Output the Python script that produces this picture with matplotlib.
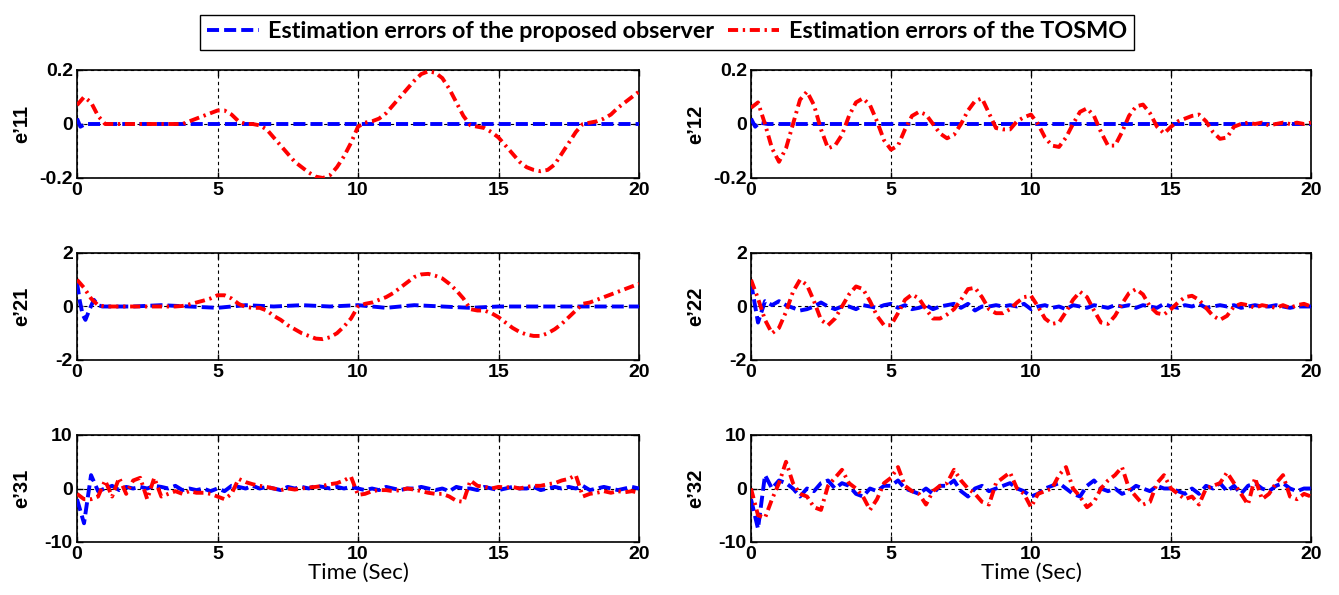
import numpy as np
import matplotlib.pyplot as plt

plt.rcParams['font.family'] = ['Liberation Sans', 'DejaVu Sans']
plt.rcParams['font.weight'] = 'bold'

# time grid (sec) on which the TOSMO curves were read
t_grid = np.arange(0, 20.01, 0.25)

# e'11
e11_tosmo = [0.07, 0.10, 0.08, 0.03,
             0.00, 0.00, 0.00, 0.00,
             0.00, 0.00, 0.00, 0.00,
             0.00, 0.00, 0.00, 0.00,
             0.01, 0.02, 0.03, 0.04,
             0.05, 0.05, 0.035, 0.01,
             0.00, 0.00, -0.005, -0.02,
             -0.05, -0.08, -0.11, -0.14,
             -0.16, -0.18, -0.195, -0.20,
             -0.19, -0.16, -0.12, -0.07,
             -0.01, 0.005, 0.01, 0.02,
             0.04, 0.07, 0.10, 0.13,
             0.16, 0.185, 0.195, 0.19,
             0.17, 0.13, 0.08, 0.03,
             -0.005, -0.01, -0.015, -0.03,
             -0.05, -0.08, -0.11, -0.14,
             -0.16, -0.17, -0.175, -0.17,
             -0.15, -0.11, -0.07, -0.03,
             0.00, 0.005, 0.01, 0.02,
             0.035, 0.06, 0.08, 0.10,
             0.12]
e11_prop_t = [0, 0.12, 0.3, 20]
e11_prop = [0.02, -0.01, 0.0, 0.0]

# e'12
e12_tosmo = [0.06, 0.08, 0.0, -0.09,
             -0.14, -0.09, 0.0, 0.09,
             0.12, 0.07, -0.02, -0.09,
             -0.08, -0.04, 0.03, 0.08,
             0.095, 0.07, 0.01, -0.06,
             -0.095, -0.08, -0.02, 0.03,
             0.045, 0.035, 0.0, -0.035,
             -0.053, -0.04, 0.0, 0.05,
             0.085, 0.095, 0.04, -0.015,
             -0.02, -0.02, 0.01, 0.025,
             0.035, 0.0, -0.05, -0.08,
             -0.085, -0.05, 0.0, 0.045,
             0.058, 0.03, -0.03, -0.08,
             -0.08, -0.03, 0.03, 0.065,
             0.072, 0.04, -0.01, -0.035,
             -0.01, 0.01, 0.02, 0.03,
             0.035, 0.01, -0.03, -0.055,
             -0.05, -0.01, 0.0, 0.005,
             0.0, 0.005, -0.005, 0.0,
             0.005, 0.0, 0.005, 0.0,
             0.005]
e12_prop_t = [0, 0.15, 0.3, 0.6, 20]
e12_prop = [0.02, -0.01, 0.005, 0.0, 0.0]

# e'21
e21_tosmo = [1.0, 0.7, 0.3, 0.05,
             0.0, 0.0, 0.0, 0.0,
             0.0, 0.0, 0.0, 0.0,
             0.0, 0.0, 0.0, 0.02,
             0.08, 0.15, 0.22, 0.3,
             0.42, 0.42, 0.3, 0.1,
             -0.02, -0.05, -0.05, -0.15,
             -0.35, -0.5, -0.7, -0.85,
             -1.0, -1.1, -1.2, -1.22,
             -1.15, -1.0, -0.75, -0.45,
             0.0, 0.1, 0.15, 0.25,
             0.35, 0.5, 0.7, 0.9,
             1.1, 1.2, 1.22, 1.15,
             1.05, 0.85, 0.6, 0.3,
             -0.1, -0.15, -0.15, -0.25,
             -0.4, -0.6, -0.8, -0.95,
             -1.05, -1.1, -1.1, -1.0,
             -0.85, -0.65, -0.4, -0.15,
             0.1, 0.15, 0.25, 0.35,
             0.45, 0.55, 0.65, 0.75,
             0.85]
e21_prop_t = [0, 0.1, 0.2, 0.3, 0.45, 0.6, 0.75, 0.9,
              2, 3, 4, 5, 6, 7, 8, 9, 10, 11, 12, 13, 14, 15, 20]
e21_prop = [0.9, 0.2, -0.3, -0.5, -0.1, 0.25, 0.05, 0.0,
            0.0, 0.05, 0.0, -0.05, 0.05, 0.0, 0.05, 0.0, 0.05, -0.05, 0.05, 0.0, -0.05, 0.0, 0.0]

# e'22
e22_tosmo = [1.0, 0.3, -0.5, -1.0,
             -0.8, -0.2, 0.55, 1.0,
             0.8, 0.2, -0.5, -0.7,
             -0.45, 0.0, 0.45, 0.75,
             0.65, 0.2, -0.35, -0.7,
             -0.7, -0.25, 0.25, 0.45,
             0.3, -0.1, -0.45, -0.45,
             -0.3, -0.1, 0.25, 0.65,
             0.7, 0.35, -0.1, -0.25,
             -0.25, -0.1, 0.15, 0.35,
             0.4, 0.0, -0.45, -0.65,
             -0.6, -0.2, 0.25, 0.55,
             0.35, -0.15, -0.6, -0.65,
             -0.35, 0.1, 0.5, 0.65,
             0.45, 0.0, -0.25, -0.3,
             -0.1, 0.15, 0.35, 0.4,
             0.25, -0.05, -0.35, -0.5,
             -0.35, 0.0, 0.1, 0.05,
             -0.05, 0.05, 0.0, -0.05,
             0.05, -0.05, 0.05, 0.1,
             0.0]
e22_prop = [0.9, -0.6, 0.2, 0.05,
            0.2, 0.05, -0.05, -0.15,
            -0.1, 0.0, 0.15, 0.0,
            -0.1, 0.0, 0.0, -0.1,
            0.05, 0.0, -0.05, 0.05,
            0.1, -0.05, 0.05, -0.1,
            -0.05, 0.05, -0.1, 0.0,
            0.05, 0.1, -0.05, 0.1,
            -0.15, 0.0, 0.0, 0.05,
            0.0, 0.05, 0.0, 0.1,
            -0.1, 0.0, 0.05, -0.05,
            0.0, -0.1, 0.05, 0.0,
            -0.05, 0.05, 0.0, -0.05,
            0.05, 0.0, 0.05, -0.05,
            0.05, 0.0, -0.05, 0.1,
            0.0, -0.05, 0.05, 0.0,
            0.1, -0.05, 0.0, 0.05,
            0.0, 0.05, -0.05, 0.0,
            0.05, 0.0, 0.0, 0.05,
            0.0, -0.05, 0.0, 0.0,
            0.0]

# e'31
e31_tosmo = [-1.0, -2.0, -2.0, -1.5,
             1.5, -1.5, 2.0, -1.0,
             1.5, 2.0, -2.0, 2.0,
             -1.5, -1.0, -0.5, -1.0,
             -0.5, -0.8, -0.8, -1.0,
             -1.5, -2.0, -1.0, 1.8,
             1.2, 0.8, 0.5, 0.3,
             0.0, -0.3, 0.0, -0.2,
             0.0, 0.2, 0.3, 0.5,
             0.8, 1.0, 1.5, 2.2,
             -1.2, -1.0, -0.5, -0.3,
             -0.3, -0.5, -0.3, 0.0,
             -0.2, -0.5, -0.8, -1.0,
             -1.0, -1.5, -2.3, -2.5,
             1.5, 0.5, 0.3, 0.0,
             0.3, 0.2, 0.3, 0.0,
             0.3, 0.5, 0.5, 0.8,
             1.0, 1.5, 1.8, 2.5,
             -1.5, -1.0, -0.8, -0.5,
             -0.8, -0.5, -0.7, -0.5,
             -0.8]
e31_prop = [-2.0, -6.5, 2.5, -0.5,
            0.0, 0.5, -0.3, 0.3,
            0.0, 0.3, 0.0, 0.5,
            0.3, 0.0, 0.5, -0.3,
            0.0, -0.3, 0.0, -0.5,
            0.0, -0.5, 0.5, 0.3,
            0.0, 0.5, 0.0, 0.3,
            0.0, -0.3, 0.3, 0.0,
            0.3, 0.0, 0.5, 0.3,
            0.0, 0.3, 0.0, 0.3,
            0.0, -0.3, 0.0, -0.3,
            0.3, 0.0, -0.3, 0.0,
            0.0, 0.3, 0.0, -0.3,
            0.0, -0.5, 0.3, 0.0,
            0.0, -0.3, 0.3, 0.0,
            -0.3, 0.0, 0.3, 0.0,
            0.0, 0.3, -0.3, 0.0,
            0.3, 0.0, 0.3, 0.0,
            0.5, -0.3, 0.0, 0.3,
            0.0, -0.3, 0.0, 0.3,
            0.0]

# e'32
e32_tosmo = [0.0, -5.0, -5.5, -2.0,
             1.0, 5.0, 1.0, -1.0,
             -1.5, -3.5, -4.0, 0.5,
             2.0, 3.5, 1.0, 0.0,
             -1.5, -4.0, -2.0, 1.0,
             2.0, 4.0, 0.5, -0.5,
             -1.0, -3.0, -0.5, 0.5,
             1.0, 3.5, 1.5, 0.0,
             -1.0, -2.5, -3.0, 1.0,
             2.0, 3.0, 0.0, -1.0,
             -3.5, -1.0, -0.5, 0.0,
             2.5, 4.0, 0.0, -1.5,
             -3.5, -2.5, 0.0, 1.5,
             2.5, 4.0, 0.0, -1.5,
             -3.0, -2.5, 1.0, 2.5,
             0.0, -1.0, -2.0, -1.5,
             -3.0, 0.0, 0.5, 1.0,
             3.0, 1.0, -1.0, -3.0,
             2.0, -2.0, -1.0, 1.0,
             2.5, -1.5, -2.0, -1.0,
             -1.5]
e32_prop = [-2.0, -7.5, 2.5, 0.0,
            1.5, 1.0, 0.0, -1.5,
            0.0, -0.5, 1.0, 1.5,
            0.0, 1.0, 0.5, -1.0,
            -1.5, 0.0, -0.5, 0.5,
            0.5, 1.5, 0.0, -0.5,
            -1.0, 0.0, -1.0, 0.5,
            0.5, 1.5, -0.5, -1.5,
            0.0, 0.5, -0.5, 0.0,
            0.5, 1.0, 0.0, -0.5,
            -1.5, -1.0, 0.0, 0.5,
            1.0, 0.0, -1.0, -1.5,
            0.5, 1.5, 0.0, -0.5,
            0.0, -1.0, -0.5, 0.5,
            0.0, -0.5, 0.5, 0.0,
            0.0, -0.5, -1.0, 0.0,
            -1.0, 0.5, 0.0, 1.0,
            -0.5, 0.5, -1.0, 0.5,
            1.0, 0.0, -0.5, 0.5,
            1.0, 0.0, -0.5, 0.0,
            0.0]

x_ticks = [0, 5, 10, 15, 20]
y_ticks_small = [-0.2, 0, 0.2]
y_ticks_mid = [-2, 0, 2]
y_ticks_big = [-10, 0, 10]
y_tick_small_labels = ['-0.2', '0', '0.2']
y_tick_mid_labels = ['-2', '0', '2']
y_tick_big_labels = ['-10', '0', '10']

panels = [
    ("e\u201911", e11_prop_t, e11_prop, t_grid, e11_tosmo, y_ticks_small, y_tick_small_labels),
    ("e\u201912", e12_prop_t, e12_prop, t_grid, e12_tosmo, y_ticks_small, y_tick_small_labels),
    ("e\u201921", e21_prop_t, e21_prop, t_grid, e21_tosmo, y_ticks_mid, y_tick_mid_labels),
    ("e\u201922", t_grid, e22_prop, t_grid, e22_tosmo, y_ticks_mid, y_tick_mid_labels),
    ("e\u201931", t_grid, e31_prop, t_grid, e31_tosmo, y_ticks_big, y_tick_big_labels),
    ("e\u201932", t_grid, e32_prop, t_grid, e32_tosmo, y_ticks_big, y_tick_big_labels),
]

W, H = 1339, 595
fig = plt.figure(figsize=(W / 100, H / 100), dpi=100)

col_x = [(77, 562), (751, 560)]
row_y = [(70, 178), (253, 360), (435, 542)]

for i, (lab, tp, vp, tt, vt, yt, ytl) in enumerate(panels):
    r, c = divmod(i, 2)
    x0, w = col_x[c]
    top, bot = row_y[r]
    ax = fig.add_axes([x0 / W, 1 - bot / H, w / W, (bot - top) / H])
    lb, = ax.plot(tp, vp, color='blue', linestyle=(0, (3.1, 1.3)), linewidth=2.8, zorder=3)
    lr, = ax.plot(tt, vt, color='red', linestyle=(0, (2.6, 1.2, 0.6, 1.2)), linewidth=2.8, zorder=4)
    ax.set_xlim(0, 20)
    ax.set_ylim(yt[0], yt[-1])
    ax.set_xticks(x_ticks)
    ax.set_xticklabels([str(v) for v in x_ticks])
    ax.set_yticks(yt)
    ax.set_yticklabels(ytl)
    ax.tick_params(direction='in', length=4, width=1, labelsize=14, pad=3,
                   top=True, right=True)
    ax.grid(True, color='black', linestyle=(0, (3, 3)), linewidth=0.8)
    for s in ax.spines.values():
        s.set_linewidth(1.2)
    ax.set_ylabel(lab, fontsize=14.5, fontweight='bold')
    ax.yaxis.set_label_coords(-46 / w, 0.5)
    if r == 2:
        ax.set_xlabel('Time (Sec)', fontsize=16, fontfamily='Lato', fontweight='normal', labelpad=0)
    if i == 0:
        handles = [lb, lr]

leg = fig.legend(handles, ['Estimation errors of the proposed observer',
                           'Estimation errors of the TOSMO'],
                 loc='center', bbox_to_anchor=(667 / W, 1 - 32 / H), ncol=2,
                 fancybox=False, edgecolor='black', framealpha=1,
                 prop={'family': 'Lato', 'weight': 'bold', 'size': 16.8},
                 handlelength=2.2, handletextpad=0.4, columnspacing=0.6,
                 borderpad=0.3)
leg.get_frame().set_linewidth(1.0)

plt.savefig('out.png', dpi=100)
